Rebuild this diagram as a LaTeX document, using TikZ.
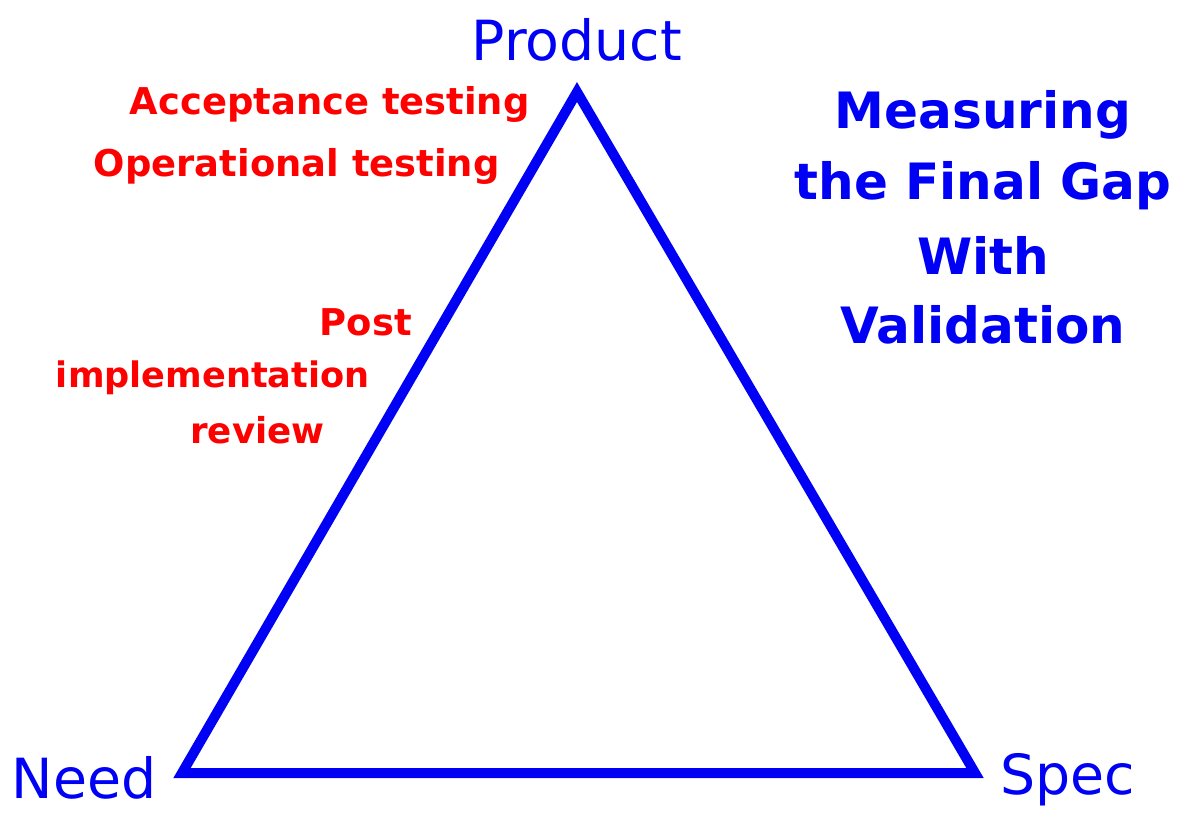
\documentclass[tikz,border=0pt]{standalone}
\usepackage{fontspec}
\setmainfont{DejaVu Sans}
\definecolor{tblue}{RGB}{0,0,245}
\definecolor{tred}{RGB}{255,0,0}
\begin{document}
\begin{tikzpicture}[x=0.02cm,y=-0.02cm,
  corner/.style={text=tblue,font=\fontsize{31.5}{36}\selectfont,inner sep=0pt},
  redlbl/.style={text=tred,font=\bfseries\fontsize{21}{25}\selectfont,inner sep=0pt},
  bluelbl/.style={text=tblue,font=\bfseries\fontsize{28.5}{32}\selectfont,inner sep=0pt}]
\useasboundingbox (0,0) rectangle (1181,816);
\coordinate (P) at (577,92);
\coordinate (N) at (182,773);
\coordinate (S) at (975,773);
\draw[tblue,line width=0.2cm,line join=miter] (P) -- (S) -- (N) -- cycle;
\node[corner] (prod) at (577,40) {Product};
\node[corner] (need) at (84,778) {Need};
\node[corner] (spec) at (1068,780) {Spec};
\node[redlbl,anchor=east] (acc) at (530,104) {Acceptance testing};
\node[redlbl,anchor=east] (op) at (500,166) {Operational testing};
\node[redlbl,anchor=east] (post) at (412,322) {Post};
\node[redlbl,anchor=east,font=\bfseries\fontsize{20}{24}\selectfont] (impl) at (370,378) {implementation};
\node[redlbl,anchor=east,font=\bfseries\fontsize{20.3}{24}\selectfont] (rev) at (325,430) {review};
\node[bluelbl] (m1) at (983,115) {Measuring};
\node[bluelbl] (m2) at (983,186) {the Final Gap};
\node[bluelbl] (m3) at (983,255) {With};
\node[bluelbl] (m4) at (983,325) {Validation};
\end{tikzpicture}
\end{document}
